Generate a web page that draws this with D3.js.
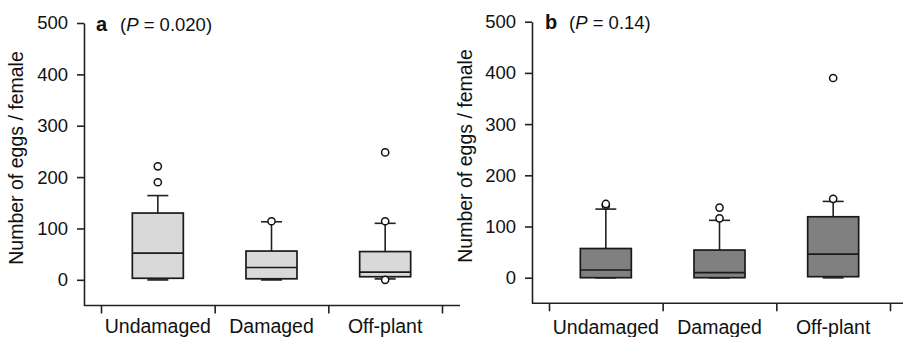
<!DOCTYPE html>
<html>
<head>
<meta charset="utf-8">
<style>
body { margin: 0; background: #fff; }
svg { display: block; font-family: "Liberation Sans", Arial, sans-serif; }
.axis path, .axis line { stroke: #222; stroke-width: 1.6; }
.axis text { fill: #111; font-size: 18.5px; font-family: "Liberation Sans", Arial, sans-serif; }
</style>
</head>
<body>
<div id="chart"></div>
<script src="https://cdn.jsdelivr.net/npm/d3@7"></script>
<script>
// categories and y ticks
var categories = ["Undamaged", "Damaged", "Off-plant"];
var yTicks = [0, 100, 200, 300, 400, 500];

// panel a - box stats
var aLow = [0, 0, 2];
var aQ1 = [3, 2, 6];
var aMed = [52, 24, 15];
var aQ3 = [130, 56, 55];
var aHigh = [164, 113, 110];
var aOut = [[190, 221], [114], [0, 114, 248]];

// panel b
var bLow = [0, 0, 0];
var bQ1 = [0, 0, 2];
var bMed = [15, 10, 46];
var bQ3 = [57, 54, 119];
var bHigh = [134, 112, 149];
var bOut = [[141, 144], [116, 137], [154, 390]];

var svg = d3.select('#chart').append('svg')
    .attr('width', 903).attr('height', 337);

function buildRows(low, q1, med, q3, high, out) {
    return categories.map(function (c, i) {
        return {cat: c, low: low[i], q1: q1[i], med: med[i], q3: q3[i], high: high[i], out: out[i]};
    });
}

function drawPanel(opt) {
    var g = svg.append('g');
    var y = d3.scaleLinear().domain([-50, 500]).range([opt.yBottom, opt.yTop]);
    var x = d3.scaleBand().domain(categories).range([opt.x0, opt.x1]);
    var edges = d3.scaleLinear().domain([0, categories.length]).range([opt.x0, opt.x1]);
    var rows = buildRows.apply(null, opt.data);

    // y axis
    g.append('g').attr('class', 'axis')
        .attr('transform', 'translate(' + opt.axisX + ',0)')
        .call(d3.axisLeft(y).tickValues(yTicks).tickSize(7).tickSizeOuter(0).tickPadding(9));

    // x axis: ticks at category edges
    var xa = g.append('g').attr('class', 'axis')
        .attr('transform', 'translate(0,' + opt.yBottom + ')')
        .call(d3.axisBottom(edges).tickValues(d3.range(categories.length + 1))
            .tickFormat('').tickSize(8).tickSizeOuter(0));
    xa.select('.domain').remove();
    xa.append('line')
        .attr('x1', opt.axisX).attr('x2', opt.xEnd)
        .attr('y1', 0).attr('y2', 0);

    g.selectAll('.cat').data(categories).enter().append('text')
        .attr('x', function (d) { return x(d) + x.bandwidth() / 2; })
        .attr('y', opt.labelY)
        .attr('text-anchor', 'middle')
        .attr('font-size', '19.5px')
        .attr('fill', '#111')
        .text(function (d) { return d; });

    var bw = 51, cw = 21;
    var box = g.selectAll('.box').data(rows).enter().append('g')
        .attr('transform', function (d) { return 'translate(' + (x(d.cat) + x.bandwidth() / 2) + ',0)'; });

    box.append('line')
        .attr('x1', 0).attr('x2', 0)
        .attr('y1', function (d) { return y(d.high); })
        .attr('y2', function (d) { return y(d.low); })
        .attr('stroke', '#222').attr('stroke-width', 1.6);
    box.append('line')
        .attr('x1', -cw / 2).attr('x2', cw / 2)
        .attr('y1', function (d) { return y(d.high); })
        .attr('y2', function (d) { return y(d.high); })
        .attr('stroke', '#222').attr('stroke-width', 1.6);
    box.append('line')
        .attr('x1', -cw / 2).attr('x2', cw / 2)
        .attr('y1', function (d) { return y(d.low); })
        .attr('y2', function (d) { return y(d.low); })
        .attr('stroke', '#333').attr('stroke-width', 2);
    box.append('rect')
        .attr('x', -bw / 2).attr('width', bw)
        .attr('y', function (d) { return y(d.q3); })
        .attr('height', function (d) { return y(d.q1) - y(d.q3); })
        .attr('fill', opt.fill)
        .attr('stroke', '#1a1a1a').attr('stroke-width', 1.7);
    box.append('line')
        .attr('x1', -bw / 2).attr('x2', bw / 2)
        .attr('y1', function (d) { return y(d.med); })
        .attr('y2', function (d) { return y(d.med); })
        .attr('stroke', '#1a1a1a').attr('stroke-width', 1.7);
    box.selectAll('circle').data(function (d) { return d.out; }).enter().append('circle')
        .attr('cx', 0)
        .attr('cy', function (v) { return y(v); })
        .attr('r', 3.6)
        .attr('fill', '#fff')
        .attr('stroke', '#111').attr('stroke-width', 1.5);

    // y label
    g.append('text')
        .attr('transform', 'translate(' + opt.ylabX + ',' + opt.ylabY + ') rotate(-90)')
        .attr('text-anchor', 'middle')
        .attr('font-size', '19.5px')
        .attr('fill', '#111')
        .text('Number of eggs / female');

    // panel title
    var t = g.append('text').attr('y', opt.titleY).attr('font-size', '18.5px').attr('fill', '#111');
    t.append('tspan').attr('x', opt.titleX).attr('font-weight', 'bold').attr('font-size', '20px').text(opt.letter);
    t.append('tspan').attr('x', opt.titleX + 24).text('(');
    t.append('tspan').attr('font-style', 'italic').text('P');
    t.append('tspan').text(' = ' + opt.p + ')');
}

drawPanel({
    data: [aLow, aQ1, aMed, aQ3, aHigh, aOut],
    fill: '#d9d9d9', axisX: 84, x0: 101, x1: 442, xEnd: 460,
    yTop: 23, yBottom: 305.5, labelY: 333,
    ylabX: 23, ylabY: 158, titleX: 96, titleY: 31, letter: 'a', p: '0.020'
});
drawPanel({
    data: [bLow, bQ1, bMed, bQ3, bHigh, bOut],
    fill: '#808080', axisX: 532, x0: 549, x1: 890, xEnd: 903,
    yTop: 21.7, yBottom: 303.3, labelY: 334,
    ylabX: 472, ylabY: 156, titleX: 545, titleY: 29, letter: 'b', p: '0.14'
});
</script>
</body>
</html>
